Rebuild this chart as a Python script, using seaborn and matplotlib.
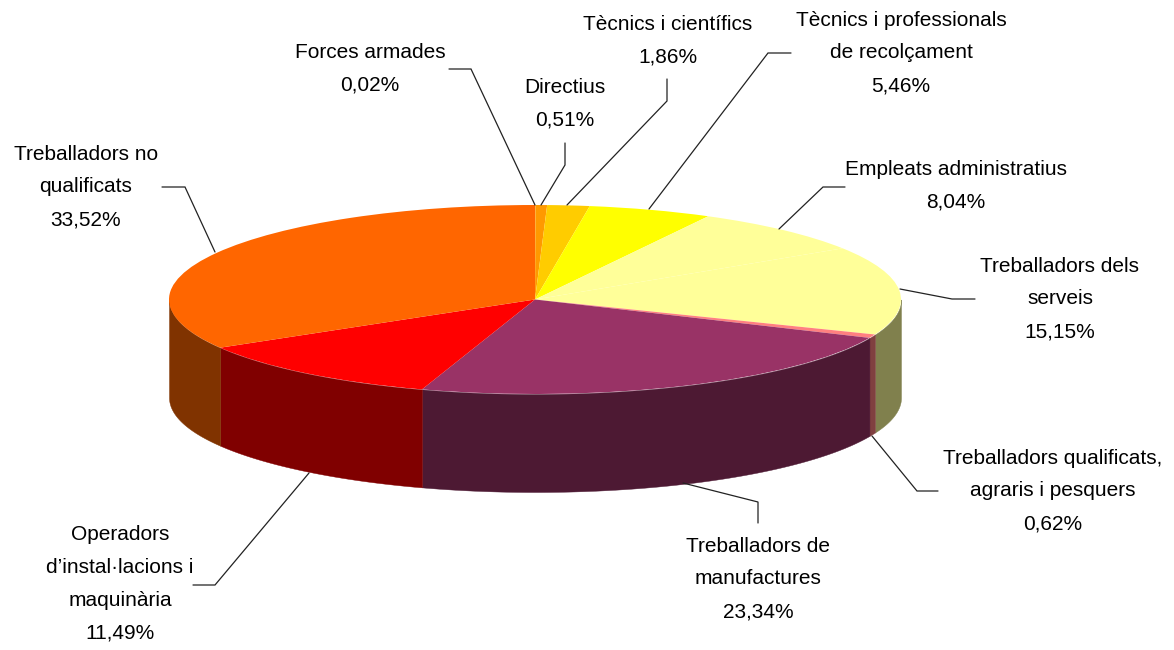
import numpy as np
import matplotlib
matplotlib.use("Agg")
import matplotlib.pyplot as plt
import seaborn as sns

# ---- data ----
categories = ["Forces armades", "Directius", "Tècnics i científics",
              "Tècnics i professionals\nde recolçament", "Empleats administratius",
              "Treballadors dels\nserveis", "Treballadors qualificats,\nagraris i pesquers",
              "Treballadors de\nmanufactures", "Operadors\nd’instal·lacions i\nmaquinària",
              "Treballadors no\nqualificats"]
values = [0.02, 0.51, 1.86, 5.46, 8.04, 15.15, 0.62, 23.34, 11.49, 33.52]
value_labels = ["0,02%", "0,51%", "1,86%", "5,46%", "8,04%",
                "15,15%", "0,62%", "23,34%", "11,49%", "33,52%"]

# ---- styles ----
top_colors = ["#FF9900", "#FF9900", "#FFCC00", "#FFFF00", "#FFFF99",
              "#FFFF99", "#FF8080", "#993366", "#FF0000", "#FF6600"]
wall_colors = ["#804D00", "#804D00", "#806600", "#808000", "#80804D",
               "#80804D", "#804040", "#4D1933", "#800000", "#803300"]

# ---- layout (pixels of the 1174x650 figure) ----
W, H = 1174, 650
cx, cy, rx, ry, depth = 535, 299.5, 366, 94.5, 98
label_xy = [(370, 69), (565, 104), (668, 41), (901, 53), (956, 186),
            (1060, 299), (1053, 491), (758, 579), (120, 584), (86, 187)]
leaders = [[(449, 69), (471, 69), (535, 205)],
           [(565, 143), (565, 165), (541, 205)],
           [(667, 79), (667, 101), (567, 205)],
           [(649, 209), (768, 53), (791, 53)],
           [(779, 229), (823, 187), (845, 187)],
           [(900, 289), (952, 299), (975, 299)],
           [(872, 436), (917, 491), (938, 491)],
           [(683, 483), (758, 502), (758, 523)],
           [(309, 473), (215, 585), (193, 585)],
           [(215, 252), (185, 187), (162, 187)]]

sns.set_theme(style="white")
plt.rcParams["font.family"] = ["Liberation Sans", "DejaVu Sans"]

fig = plt.figure(figsize=(W / 100, H / 100), dpi=100, facecolor="white")
ax = fig.add_axes([(cx - rx) / W, 1 - (cy + ry) / H, 2 * rx / W, 2 * ry / H])

# top face
ax.pie(values, colors=sns.color_palette(top_colors), startangle=90, counterclock=False,
       radius=1, wedgeprops={"linewidth": 0, "zorder": 3})
ax.set_aspect("auto")
ax.set_xlim(-1, 1)
ax.set_ylim(-1, 1)
ax.axis("off")

# side wall: front half of the rim, following the same slices
edges = np.concatenate([[0], np.cumsum(values)]) / np.sum(values) * 2 * np.pi
for a0, a1, col in zip(edges[:-1], edges[1:], wall_colors):
    lo, hi = max(a0, np.pi / 2), min(a1, 3 * np.pi / 2)
    if hi <= lo:
        continue
    t = np.linspace(lo, hi, 200)
    x = np.sin(t)
    y = np.cos(t)
    ax.fill_between(x, y, y - depth / ry, color=col, linewidth=0.3, zorder=2, clip_on=False)

# overlay in figure pixels for labels and leader lines
ov = fig.add_axes([0, 0, 1, 1], facecolor="none")
ov.set_xlim(0, W)
ov.set_ylim(H, 0)
ov.axis("off")
for name, val, (lx, ly), pts in zip(categories, value_labels, label_xy, leaders):
    ov.text(lx, ly, f"{name}\n{val}", ha="center", va="center", fontsize=15.0,
            linespacing=1.93, color="black")
    p = np.array(pts)
    ov.plot(p[:, 0], p[:, 1], color="#222222", lw=0.9, solid_joinstyle="miter")

fig.savefig("out.png", dpi=100)
